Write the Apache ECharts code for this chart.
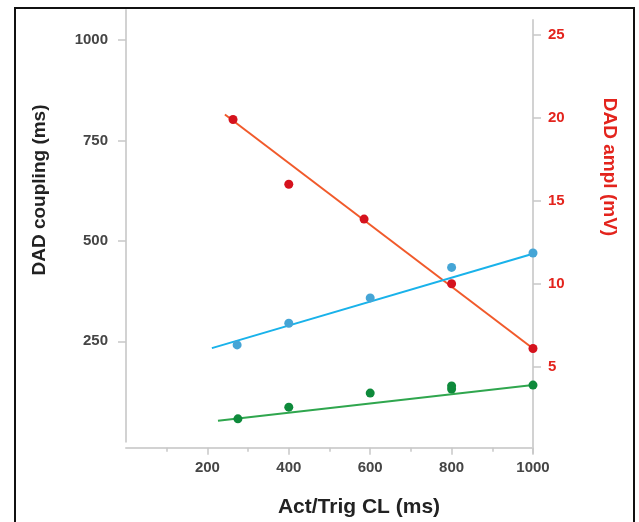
<!DOCTYPE html>
<html>
<head>
<meta charset="utf-8">
<script src="https://cdn.jsdelivr.net/npm/echarts@6/dist/echarts.min.js"></script>
<style>
  html, body { margin: 0; padding: 0; background: #fff; }
  #chart { width: 639px; height: 522px; }
</style>
</head>
<body>
<div id="chart"></div>
<script>
// Activation / trigger cycle length (ms) for each measurement
const ampX = [263, 400, 585, 800, 1000];
const ampY = [19.9, 16.0, 13.9, 10.0, 6.1];          // DAD amplitude (mV)
const coupX = [273, 400, 600, 800, 1000];
const coupY = [241, 295, 358, 434, 470];              // DAD coupling (ms)
const lowX = [275, 400, 600, 800, 800, 1000];
const lowY = [57, 86, 121, 131, 139, 141];            // lower coupling series (ms)

// Regression lines (end points)
const ampFitX = [243, 1000];
const ampFitY = [20.2, 6.1];
const coupFitX = [211, 1000];
const coupFitY = [233, 468];
const lowFitX = [226, 1000];
const lowFitY = [52, 141];

// Tick labels
const xTicks = [200, 400, 600, 800, 1000];
const leftTicks = [250, 500, 750, 1000];
const rightTicks = [5, 10, 15, 20, 25];

const FONT = '"Liberation Sans", Arial, sans-serif';
const AXIS_GRAY = '#d2d2d2';
const TICK_GRAY = '#c8c8c8';
const LABEL_GRAY = '#454545';
const RED_TEXT = '#e3241d';

const pairs = (xs, ys) => xs.map((x, i) => [x, ys[i]]);
const plain = v => String(v);

const chart = echarts.init(document.getElementById('chart'), null, { renderer: 'canvas' });

chart.setOption({
  animation: false,
  backgroundColor: '#fff',
  grid: [
    { left: 126, width: 407, top: 10, height: 431.7 },
    { left: 126, width: 407, top: 20, height: 433 }
  ],
  xAxis: [
    {
      gridIndex: 0, type: 'value', min: 0, max: 1000, interval: 200,
      position: 'bottom', offset: 6,
      axisLine: { show: true, onZero: false, lineStyle: { color: AXIS_GRAY, width: 2 } },
      axisTick: { show: true, customValues: xTicks, length: 7, lineStyle: { color: TICK_GRAY, width: 1.5 } },
      minorTick: { show: true, splitNumber: 2, length: 4, lineStyle: { color: TICK_GRAY, width: 1.5 } },
      axisLabel: { customValues: xTicks, formatter: plain, margin: 13, color: LABEL_GRAY, fontSize: 15, fontWeight: 'bold', fontFamily: FONT },
      splitLine: { show: false }
    },
    { gridIndex: 1, type: 'value', min: 0, max: 1000, show: false }
  ],
  yAxis: [
    {
      gridIndex: 0, type: 'value', position: 'left', min: 0, max: 1075,
      axisLine: { show: true, onZero: false, lineStyle: { color: AXIS_GRAY, width: 2 } },
      axisTick: { show: true, customValues: leftTicks, length: 8, lineStyle: { color: TICK_GRAY, width: 1.5 } },
      axisLabel: { customValues: leftTicks, formatter: plain, margin: 18, color: LABEL_GRAY, fontSize: 15, fontWeight: 'bold', fontFamily: FONT },
      splitLine: { show: false }
    },
    {
      gridIndex: 1, type: 'value', position: 'right', min: -0.2, max: 25.9,
      axisLine: { show: true, onZero: false, lineStyle: { color: AXIS_GRAY, width: 2 } },
      axisTick: { show: true, customValues: rightTicks, length: 8, lineStyle: { color: TICK_GRAY, width: 1.5 } },
      axisLabel: { customValues: rightTicks, formatter: plain, margin: 15, color: RED_TEXT, fontSize: 15, fontWeight: 'bold', fontFamily: FONT },
      splitLine: { show: false }
    }
  ],
  series: [
    { type: 'line', xAxisIndex: 1, yAxisIndex: 1, data: pairs(ampFitX, ampFitY), showSymbol: false,
      lineStyle: { color: '#f15a2b', width: 2 }, z: 2 },
    { type: 'line', xAxisIndex: 0, yAxisIndex: 0, data: pairs(coupFitX, coupFitY), showSymbol: false,
      lineStyle: { color: '#19b2ea', width: 2 }, z: 2 },
    { type: 'line', xAxisIndex: 0, yAxisIndex: 0, data: pairs(lowFitX, lowFitY), showSymbol: false,
      lineStyle: { color: '#2fa64e', width: 2 }, z: 2 },
    { type: 'scatter', xAxisIndex: 1, yAxisIndex: 1, data: pairs(ampX, ampY), symbolSize: 9,
      itemStyle: { color: '#d5121d', opacity: 1 }, z: 3 },
    { type: 'scatter', xAxisIndex: 0, yAxisIndex: 0, data: pairs(coupX, coupY), symbolSize: 9,
      itemStyle: { color: '#45a5d6', opacity: 1 }, z: 3 },
    { type: 'scatter', xAxisIndex: 0, yAxisIndex: 0, data: pairs(lowX, lowY), symbolSize: 9,
      itemStyle: { color: '#0e8a3b', opacity: 1 }, z: 3 }
  ],
  graphic: [
    { type: 'rect', shape: { x: 15, y: 8, width: 619, height: 540 }, silent: true,
      style: { fill: 'none', stroke: '#111', lineWidth: 2 }, z: 100 },
    { type: 'text', x: 359, y: 507, silent: true,
      style: { text: 'Act/Trig CL (ms)', fill: '#222', font: 'bold 21px ' + FONT, align: 'center', verticalAlign: 'middle' } },
    { type: 'text', x: 40, y: 190, rotation: Math.PI / 2, silent: true,
      style: { text: 'DAD coupling (ms)', fill: '#222', font: 'bold 19px ' + FONT, align: 'center', verticalAlign: 'middle' } },
    { type: 'text', x: 609, y: 167, rotation: -Math.PI / 2, silent: true,
      style: { text: 'DAD ampl (mV)', fill: RED_TEXT, font: 'bold 19px ' + FONT, align: 'center', verticalAlign: 'middle' } }
  ]
});
</script>
</body>
</html>
